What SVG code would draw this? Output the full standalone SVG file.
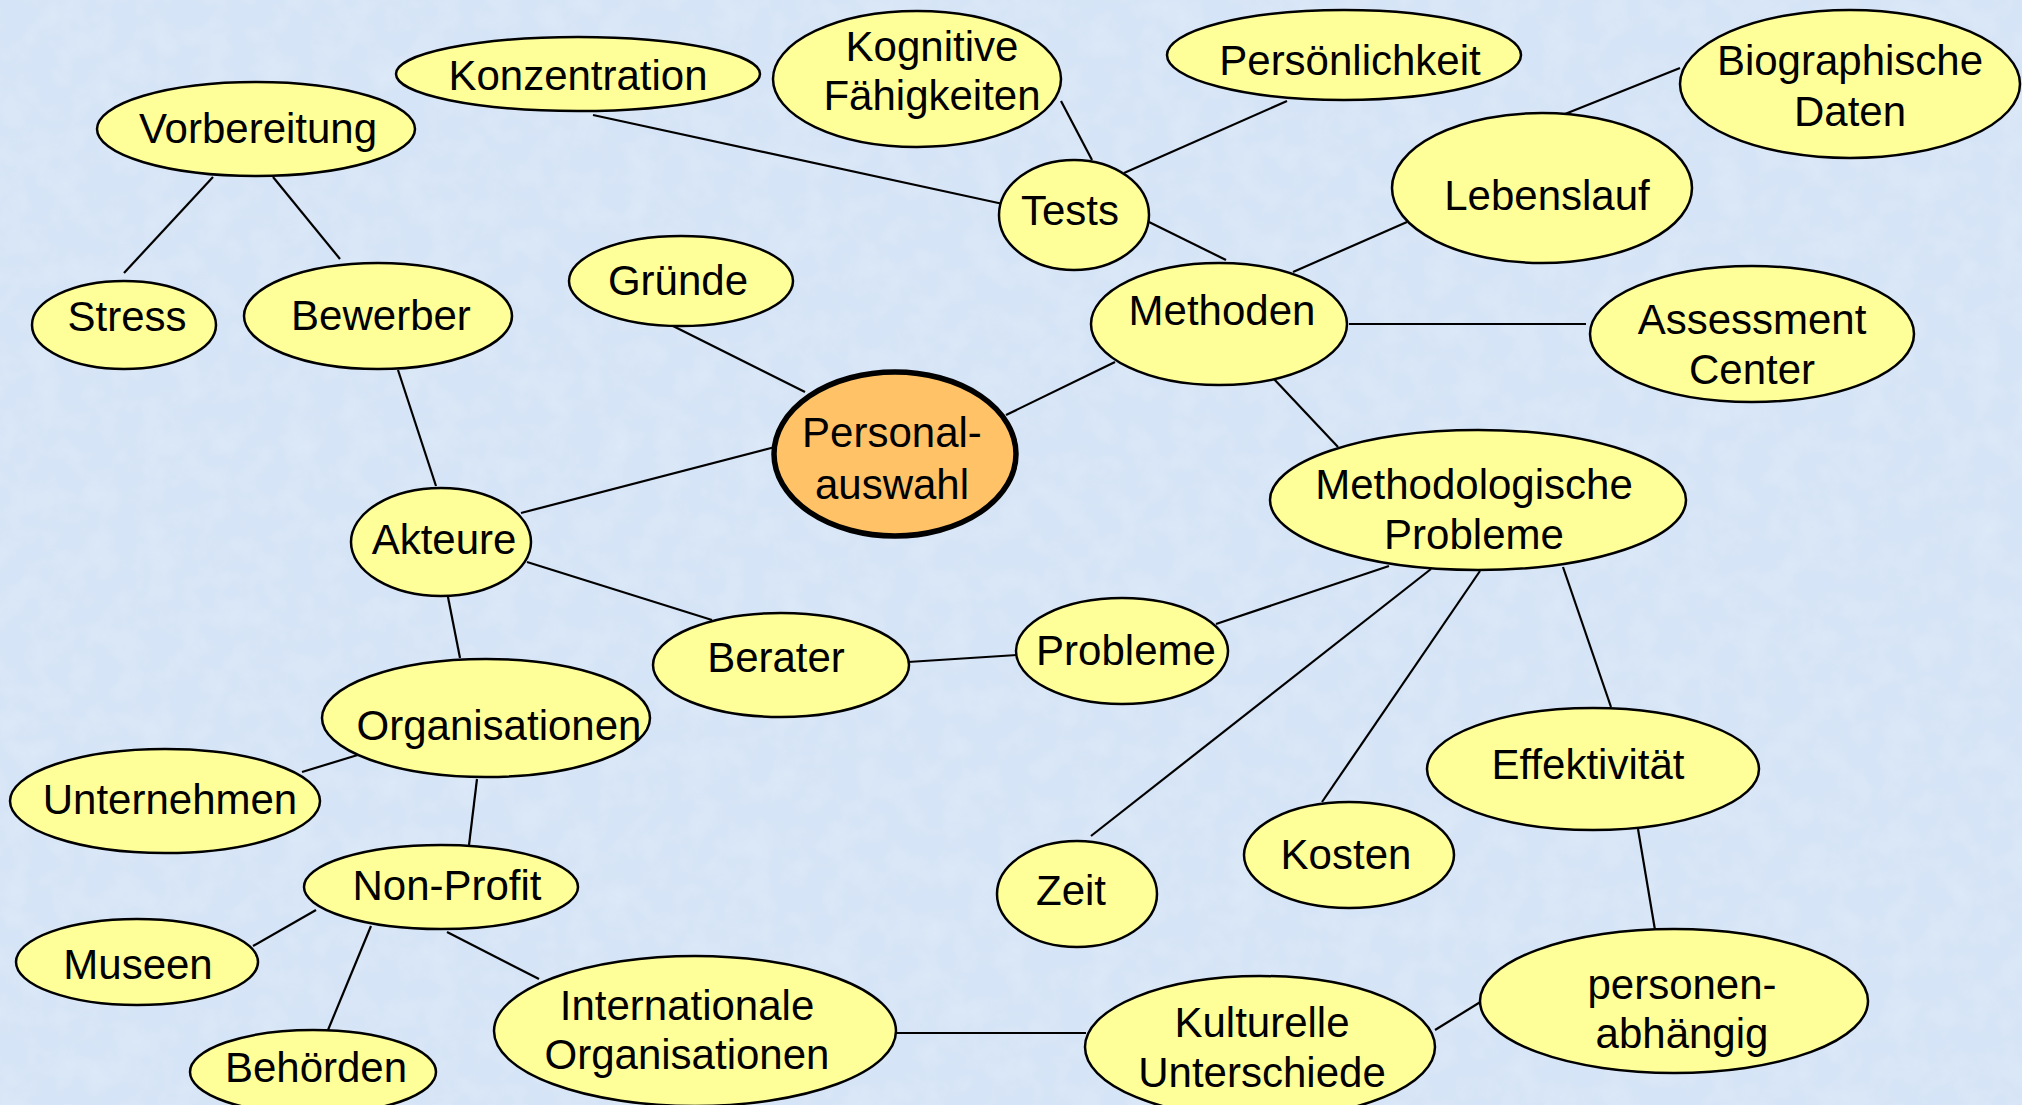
<svg xmlns="http://www.w3.org/2000/svg" width="2022" height="1105" viewBox="0 0 2022 1105">
<defs>
<filter id="tex" x="0" y="0" width="100%" height="100%">
<feTurbulence type="fractalNoise" baseFrequency="0.035" numOctaves="3" seed="4" result="n"/>
<feColorMatrix in="n" type="matrix" values="0 0 0 0 1  0 0 0 0 1  0 0 0 0 1  0 0 0 0.55 -0.2" />
</filter>
<style>
.n{fill:#ffff99;stroke:#000;stroke-width:2.5}
.c{fill:#ffc266;stroke:#000;stroke-width:5.5}
.e line{stroke:#000;stroke-width:2.2}
text{font-family:"Liberation Sans",Arial,sans-serif;font-size:42px;fill:#000;text-anchor:middle}
</style>
</defs>
<rect x="0" y="0" width="2022" height="1105" fill="#d5e4f6"/>
<rect x="0" y="0" width="2022" height="1105" filter="url(#tex)" opacity="0.6"/>
<g id="connectors" class="e">
<line x1="593" y1="115" x2="1003" y2="204"/>
<line x1="1061" y1="101" x2="1092" y2="160"/>
<line x1="1287" y1="101" x2="1124" y2="173"/>
<line x1="1149" y1="222" x2="1226" y2="260"/>
<line x1="1293" y1="272" x2="1407" y2="222"/>
<line x1="1560" y1="116" x2="1680" y2="68"/>
<line x1="1349" y1="324" x2="1586" y2="324"/>
<line x1="1273" y1="378" x2="1338" y2="447"/>
<line x1="1115" y1="362" x2="1006" y2="415"/>
<line x1="671" y1="325" x2="805" y2="392"/>
<line x1="213" y1="177" x2="124" y2="273"/>
<line x1="273" y1="177" x2="340" y2="259"/>
<line x1="398" y1="370" x2="436" y2="486"/>
<line x1="521" y1="513" x2="775" y2="447"/>
<line x1="527" y1="562" x2="712" y2="620"/>
<line x1="447" y1="592" x2="460" y2="658"/>
<line x1="908" y1="662" x2="1017" y2="655"/>
<line x1="1216" y1="624" x2="1389" y2="566"/>
<line x1="1431" y1="569" x2="1091" y2="836"/>
<line x1="1480" y1="571" x2="1322" y2="802"/>
<line x1="1563" y1="567" x2="1611" y2="707"/>
<line x1="1638" y1="829" x2="1655" y2="930"/>
<line x1="361" y1="754" x2="302" y2="772"/>
<line x1="477" y1="779" x2="469" y2="845"/>
<line x1="316" y1="910" x2="253" y2="946"/>
<line x1="371" y1="926" x2="328" y2="1030"/>
<line x1="447" y1="932" x2="539" y2="979"/>
<line x1="894" y1="1033" x2="1086" y2="1033"/>
<line x1="1435" y1="1030" x2="1482" y2="1001"/>
</g>
<g id="konzentration"><ellipse class="n" cx="578" cy="74" rx="182" ry="37"/><text x="578" y="90">Konzentration</text></g>
<g id="kognitive"><ellipse class="n" cx="917" cy="79" rx="144" ry="68"/><text x="932" y="61">Kognitive</text><text x="932" y="110">Fähigkeiten</text></g>
<g id="persoenlichkeit"><ellipse class="n" cx="1344" cy="55" rx="177" ry="45"/><text x="1350" y="75">Persönlichkeit</text></g>
<g id="biographische"><ellipse class="n" cx="1850" cy="84" rx="170" ry="74"/><text x="1850" y="75">Biographische</text><text x="1850" y="126">Daten</text></g>
<g id="vorbereitung"><ellipse class="n" cx="256" cy="129" rx="159" ry="47"/><text x="258" y="143">Vorbereitung</text></g>
<g id="tests"><ellipse class="n" cx="1074" cy="215" rx="75" ry="55"/><text x="1070" y="225">Tests</text></g>
<g id="lebenslauf"><ellipse class="n" cx="1542" cy="188" rx="150" ry="75"/><text x="1547" y="210">Lebenslauf</text></g>
<g id="gruende"><ellipse class="n" cx="681" cy="281" rx="112" ry="45"/><text x="678" y="295">Gründe</text></g>
<g id="stress"><ellipse class="n" cx="124" cy="325" rx="92" ry="44"/><text x="127" y="331">Stress</text></g>
<g id="bewerber"><ellipse class="n" cx="378" cy="316" rx="134" ry="53"/><text x="381" y="330">Bewerber</text></g>
<g id="methoden"><ellipse class="n" cx="1219" cy="324" rx="128" ry="61"/><text x="1222" y="325">Methoden</text></g>
<g id="assessment"><ellipse class="n" cx="1752" cy="334" rx="162" ry="68"/><text x="1752" y="334">Assessment</text><text x="1752" y="384">Center</text></g>
<g id="personalauswahl"><ellipse class="c" cx="895" cy="454" rx="121" ry="82"/><text x="892" y="447">Personal-</text><text x="892" y="499">auswahl</text></g>
<g id="methodologische"><ellipse class="n" cx="1478" cy="500" rx="208" ry="70"/><text x="1474" y="499">Methodologische</text><text x="1474" y="549">Probleme</text></g>
<g id="akteure"><ellipse class="n" cx="441" cy="542" rx="90" ry="54"/><text x="444" y="554">Akteure</text></g>
<g id="berater"><ellipse class="n" cx="781" cy="665" rx="128" ry="52"/><text x="776" y="672">Berater</text></g>
<g id="probleme"><ellipse class="n" cx="1122" cy="651" rx="106" ry="53"/><text x="1126" y="665">Probleme</text></g>
<g id="organisationen"><ellipse class="n" cx="486" cy="718" rx="164" ry="59"/><text x="499" y="740">Organisationen</text></g>
<g id="unternehmen"><ellipse class="n" cx="165" cy="801" rx="155" ry="52"/><text x="170" y="814">Unternehmen</text></g>
<g id="effektivitaet"><ellipse class="n" cx="1593" cy="769" rx="166" ry="61"/><text x="1588" y="779">Effektivität</text></g>
<g id="kosten"><ellipse class="n" cx="1349" cy="855" rx="105" ry="53"/><text x="1346" y="869">Kosten</text></g>
<g id="zeit"><ellipse class="n" cx="1077" cy="894" rx="80" ry="53"/><text x="1071" y="905">Zeit</text></g>
<g id="nonprofit"><ellipse class="n" cx="441" cy="887" rx="137" ry="42"/><text x="447" y="900">Non-Profit</text></g>
<g id="museen"><ellipse class="n" cx="137" cy="962" rx="121" ry="43"/><text x="138" y="979">Museen</text></g>
<g id="behoerden"><ellipse class="n" cx="313" cy="1072" rx="123" ry="42"/><text x="316" y="1082">Behörden</text></g>
<g id="internationale"><ellipse class="n" cx="695" cy="1031" rx="201" ry="75"/><text x="687" y="1020">Internationale</text><text x="687" y="1069">Organisationen</text></g>
<g id="kulturelle"><ellipse class="n" cx="1260" cy="1047" rx="175" ry="71"/><text x="1262" y="1037">Kulturelle</text><text x="1262" y="1087">Unterschiede</text></g>
<g id="personenabhaengig"><ellipse class="n" cx="1674" cy="1001" rx="194" ry="72"/><text x="1682" y="999">personen-</text><text x="1682" y="1048">abhängig</text></g>
</svg>
